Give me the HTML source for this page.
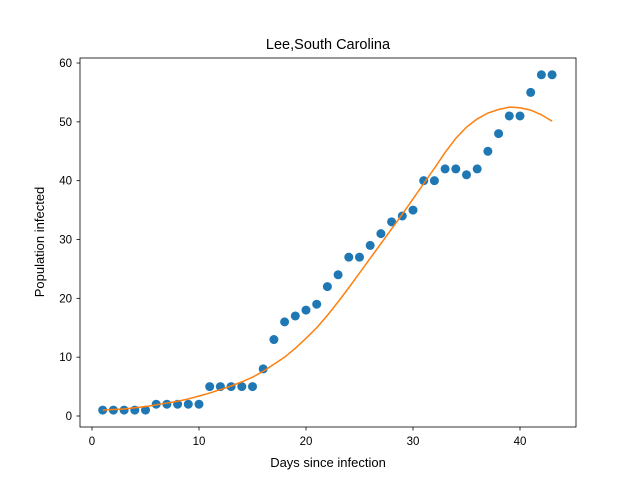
<!DOCTYPE html>
<html><head><meta charset="utf-8"><style>body{margin:0;background:#fff}svg{display:block;font-family:"Liberation Sans","DejaVu Sans",sans-serif}</style></head>
<body>
<svg id="chart" width="640" height="480">
<rect x="0" y="0" width="640" height="480" fill="#fff"/>
<text x="328" y="49" text-anchor="middle" font-size="14.5">Lee,South Carolina</text>
<g id="plot"></g>
<rect x="80" y="58" width="496" height="369" fill="none" stroke="#000" stroke-width="0.8"/>
<text x="328" y="467" text-anchor="middle" font-size="13">Days since infection</text>
<text transform="translate(44,242) rotate(-90)" text-anchor="middle" font-size="13">Population infected</text>
</svg>
<script>
const days=[1,2,3,4,5,6,7,8,9,10,11,12,13,14,15,16,17,18,19,20,21,22,23,24,25,26,27,28,29,30,31,32,33,34,35,36,37,38,39,40,41,42,43];
const infected=[1,1,1,1,1,2,2,2,2,2,5,5,5,5,5,8,13,16,17,18,19,22,24,27,27,29,31,33,34,35,40,40,42,42,41,42,45,48,51,51,55,58,58];
const fitted=[1.0,1.1,1.2,1.4,1.6,1.9,2.2,2.5,2.9,3.4,3.9,4.5,5.1,5.8,6.6,7.6,8.8,10.0,11.5,13.2,15.0,17.1,19.4,21.8,24.3,26.8,29.3,31.8,34.3,36.9,39.5,42.1,44.8,47.2,49.1,50.5,51.5,52.1,52.5,52.4,52.0,51.2,50.1];
const xTicks=[0,10,20,30,40];
const yTicks=[0,10,20,30,40,50,60];
const X=v=>92+(v)*10.7, Y=v=>416-v*5.883;
const ns="http://www.w3.org/2000/svg", g=document.getElementById('plot');
function mk(t,a){const e=document.createElementNS(ns,t);for(const k in a)e.setAttribute(k,a[k]);g.appendChild(e);return e;}
xTicks.forEach(v=>{const l=mk('line',{x1:X(v),x2:X(v),y1:427,y2:430.5,stroke:'#000','stroke-width':0.8});


const t=mk('text',{x:X(v),y:445,'text-anchor':'middle','font-size':11.5});t.textContent=v;

});
yTicks.forEach(v=>{const l=mk('line',{x1:76.5,x2:80,y1:Y(v),y2:Y(v),stroke:'#000','stroke-width':0.8});


const t=mk('text',{x:72,y:Y(v)+4,'text-anchor':'end','font-size':11.5});t.textContent=v;

});
days.forEach((d,i)=>{const c=mk('circle',{cx:X(d),cy:Y(infected[i]),r:4.5,fill:'#1f77b4'});

});
const p=mk('polyline',{points:days.map((d,i)=>X(d)+','+Y(fitted[i])).join(' '),fill:'none',stroke:'#ff7f0e','stroke-width':1.5});


</script>
</body></html>
